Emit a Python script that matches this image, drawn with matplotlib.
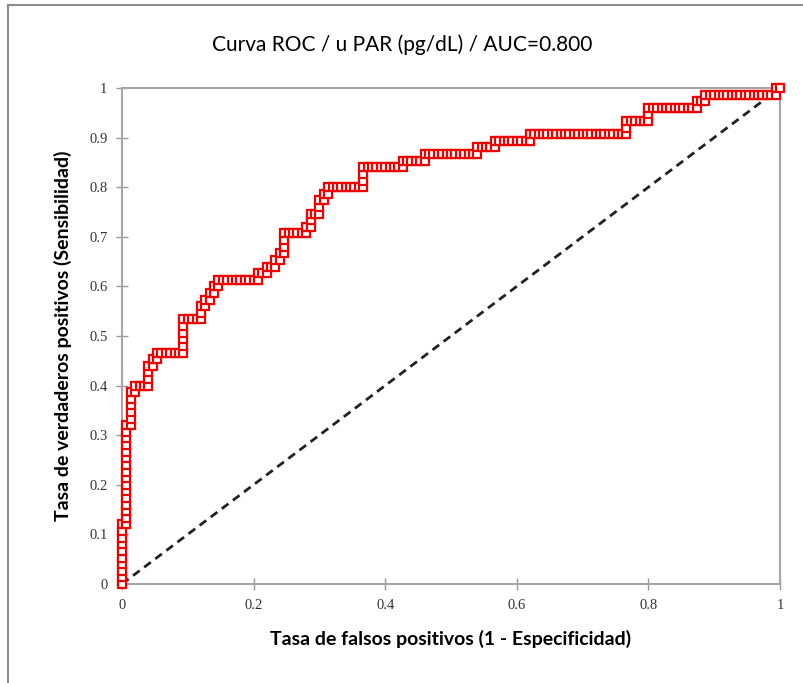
import numpy as np
import matplotlib
matplotlib.use("Agg")
import matplotlib.pyplot as plt
from matplotlib.patches import Rectangle

# ROC: totals and the corner levels of the step curve
n_neg = 150
n_pos = 75
# the curve climbs to tp_levels[i], then runs right to fp_levels[i]
tp_levels = [9, 24, 29, 30, 33, 34, 35, 40, 42, 43, 44, 45, 46, 47, 48, 49, 50,
             53, 54, 56, 58, 59, 60, 63, 64, 65, 66, 67, 68, 70, 72, 73, 74, 75]
fp_levels = [1, 2, 3, 6, 7, 8, 14, 18, 19, 20, 21, 22, 31, 33, 35, 36, 37,
             42, 43, 45, 46, 47, 55, 64, 69, 81, 85, 93, 115, 120, 131, 133, 149, 150]
title = "Curva ROC / u PAR (pg/dL) / AUC=0.800"
xlabel = "Tasa de falsos positivos (1 - Especificidad)"
ylabel = "Tasa de verdaderos positivos (Sensibilidad)"

# one ROC point per case, sorted by score
fp, tp = 0, 0
fps, tps = [0], [0]
for t_up, f_right in zip(tp_levels, fp_levels):
    while tp < t_up:
        tp += 1
        fps.append(fp)
        tps.append(tp)
    while fp < f_right:
        fp += 1
        fps.append(fp)
        tps.append(tp)
fpr = np.array(fps) / n_neg
tpr = np.array(tps) / n_pos

fig = plt.figure(figsize=(8.04, 6.83), dpi=100)
ax = fig.add_axes([0.1517, 0.145, 0.8184, 0.7262])

ax.plot([0, 1], [0, 1], color="#222222", linestyle=(0, (3, 2)), linewidth=2, zorder=2)
ax.plot(fpr, tpr, color="#ff0000", linewidth=2, marker="s", markersize=5.5,
        markerfacecolor="white", markeredgecolor="#ee0000", markeredgewidth=1.6,
        zorder=3, clip_on=False)

ax.set_xlim(0, 1)
ax.set_ylim(0, 1)
ax.set_xticks([0, 0.2, 0.4, 0.6, 0.8, 1])
ax.set_xticklabels(["0", "0.2", "0.4", "0.6", "0.8", "1"])
ax.set_yticks(np.arange(0, 1.01, 0.1))
ax.set_yticklabels(["0", "0.1", "0.2", "0.3", "0.4", "0.5", "0.6", "0.7", "0.8", "0.9", "1"])
for lab in ax.get_xticklabels() + ax.get_yticklabels():
    lab.set_family("Liberation Serif")
    lab.set_fontsize(10.5)
    lab.set_color("#333333")
ax.tick_params(direction="inout", length=9, width=1, color="#999999", pad=6)
for s in ax.spines.values():
    s.set_color("#a6a6a6")
    s.set_linewidth(1.5)

ax.set_xlabel(xlabel, family="Lato", fontweight="bold", fontsize=14, labelpad=13)
ax.set_ylabel(ylabel, family="Lato", fontweight="bold", fontsize=14, labelpad=12)
fig.text(0.5, 0.934, title, family="Lato", fontsize=15, ha="center", va="center")

# outer chart frame
fig.patches.append(Rectangle((8 / 804, -0.1), 1.2, 1.1 - 5 / 683,
                             transform=fig.transFigure, fill=False,
                             edgecolor="#8c8c8c", linewidth=1.5))

fig.savefig("out.png", dpi=100)
